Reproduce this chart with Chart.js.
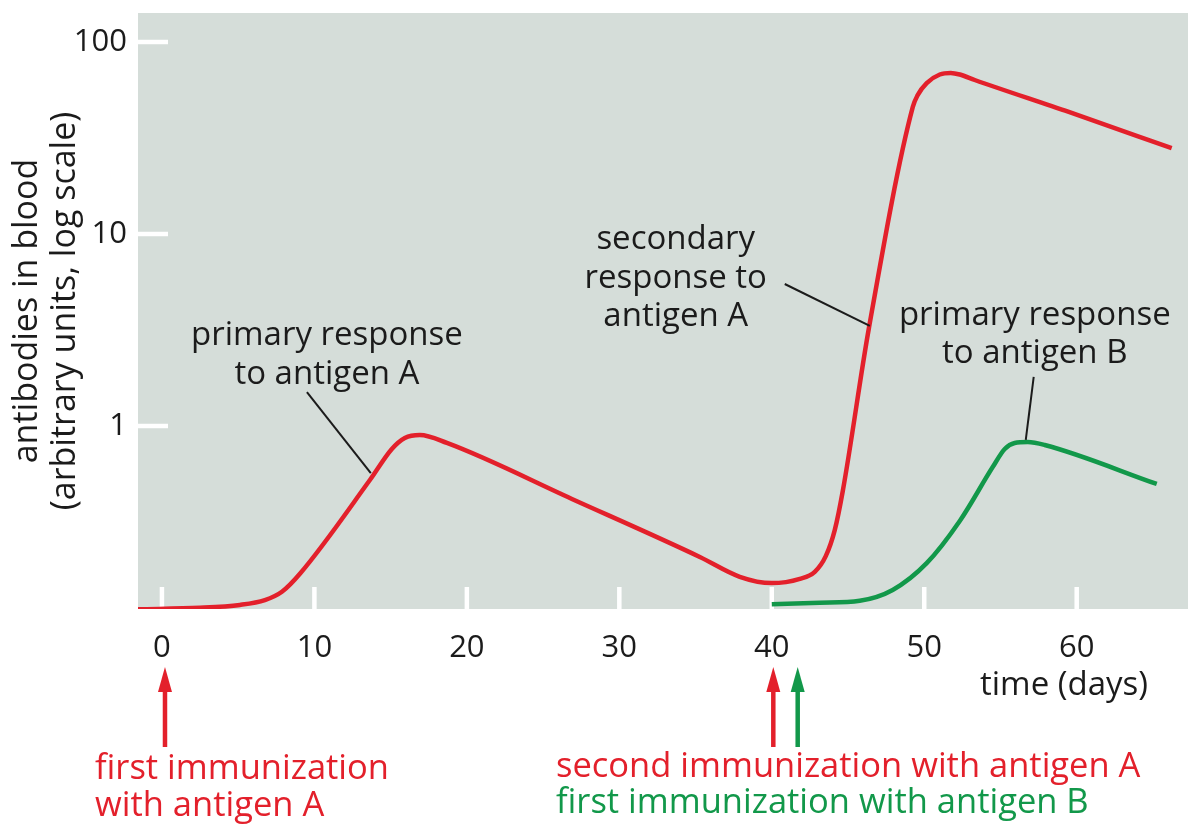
<!DOCTYPE html>
<html lang="en">
<head>
<meta charset="UTF-8">
<title>Primary and secondary antibody response</title>
<script src="https://cdn.jsdelivr.net/npm/chart.js@4.4.0/dist/chart.umd.min.js"></script>
<style>
  * { margin:0; padding:0; box-sizing:border-box; }
  html, body { width:1197px; height:835px; background:#fff; overflow:hidden; }
  .wrap { position:relative; width:1197px; height:835px; }
</style>
</head>
<body>
<div class="wrap"><canvas id="chart" width="1197" height="835"></canvas></div>

<script>
// ---- data (days after first immunization, antibodies in arbitrary units) ----
const dayTicks = [0, 10, 20, 30, 40, 50, 60];
const levelTicks = [1, 10, 100];

const antigenADays   = [-1.57, 2.49, 5.11, 6.75, 7.87, 9.05, 13.64, 15.08, 15.93, 16.92, 18.69, 26.89,
                        35.28, 37.90, 40.0, 41.84, 42.82, 43.54, 44.13, 44.66, 46.36, 49.25, 49.57,
                        50.16, 51.02, 51.74, 52.33, 53.31, 59.48, 66.23];
const antigenALevels = [0.111, 0.113, 0.117, 0.124, 0.137, 0.170, 0.523, 0.759, 0.866, 0.898, 0.816, 0.417,
                        0.208, 0.164, 0.152, 0.160, 0.174, 0.210, 0.287, 0.460, 3.2, 45.9, 52.9,
                        61.1, 67.7, 69.0, 67.7, 63.4, 43.2, 28.0];

const antigenBDays   = [40.0, 43.15, 45.77, 47.93, 50.16, 52.33, 54.49, 55.28, 55.93, 56.79, 57.90, 65.25];
const antigenBLevels = [0.118, 0.120, 0.123, 0.140, 0.193, 0.320, 0.611, 0.759, 0.816, 0.825, 0.796, 0.499];

const immunizationDays = [0.2, 40.1, 41.7];

const RED = '#e3202b';
const GREEN = '#12984a';
const INK = '#1b1b1b';
const FONT = "'Open Sans', 'Noto Sans', sans-serif";

const toPoints = (xs, ys) => xs.map((x, i) => ({ x, y: ys[i] }));

// panel background + white inner tick marks
const panel = {
  id: 'panel',
  beforeDraw(chart) {
    const { ctx, chartArea: a } = chart;
    ctx.save();
    ctx.fillStyle = '#d5ddd9';
    ctx.fillRect(a.left, a.top, a.right - a.left, a.bottom - a.top);
    ctx.restore();
  },
  beforeDatasetsDraw(chart) {
    const { ctx, chartArea: a, scales: { x, y } } = chart;
    ctx.save();
    ctx.strokeStyle = '#fff';
    ctx.lineWidth = 4.5;
    dayTicks.forEach(d => {
      const px = x.getPixelForValue(d);
      ctx.beginPath(); ctx.moveTo(px, a.bottom); ctx.lineTo(px, a.bottom - 22); ctx.stroke();
    });
    levelTicks.forEach(v => {
      const py = y.getPixelForValue(v);
      ctx.beginPath(); ctx.moveTo(a.left, py); ctx.lineTo(a.left + 30, py); ctx.stroke();
    });
    ctx.restore();
  }
};

// labels, leader lines and immunization arrows
const notes = {
  id: 'notes',
  afterDraw(chart) {
    const { ctx, scales: { x, y } } = chart;
    const P = (d, v) => [x.getPixelForValue(d), y.getPixelForValue(v)];
    ctx.save();

    // leader lines
    ctx.strokeStyle = INK;
    ctx.lineWidth = 2;
    [[9.51, 1.50, 13.70, 0.569], [40.85, 5.49, 46.43, 3.32], [57.18, 1.80, 56.66, 0.846]].forEach(l => {
      const [x1, y1] = P(l[0], l[1]), [x2, y2] = P(l[2], l[3]);
      ctx.beginPath(); ctx.moveTo(x1, y1); ctx.lineTo(x2, y2); ctx.stroke();
    });

    // response labels
    ctx.fillStyle = INK;
    ctx.font = `33px ${FONT}`;
    ctx.textAlign = 'center';
    ctx.textBaseline = 'alphabetic';
    [
      { d: 10.82, v: 2.64, lines: ['primary response', 'to antigen A'] },
      { d: 33.70, v: 8.35, lines: ['secondary', 'response to', 'antigen A'] },
      { d: 57.25, v: 3.36, lines: ['primary response', 'to antigen B'] }
    ].forEach(t => {
      const [px, py] = P(t.d, t.v);
      t.lines.forEach((s, i) => ctx.fillText(s, px, py + i * 38.5));
    });

    // x axis title
    ctx.textAlign = 'right';
    ctx.fillText('time (days)', 1148, 695);

    // arrows
    const cols = [RED, RED, GREEN];
    immunizationDays.forEach((d, i) => {
      const px = x.getPixelForValue(d);
      ctx.strokeStyle = cols[i];
      ctx.fillStyle = cols[i];
      ctx.lineWidth = 4.5;
      ctx.beginPath(); ctx.moveTo(px, 747); ctx.lineTo(px, 685); ctx.stroke();
      ctx.beginPath(); ctx.moveTo(px, 667); ctx.lineTo(px - 7, 692); ctx.lineTo(px + 7, 692); ctx.closePath(); ctx.fill();
    });

    // immunization captions
    ctx.font = `34.5px ${FONT}`;
    ctx.textAlign = 'left';
    ctx.fillStyle = RED;
    ctx.fillText('first immunization', 95, 779);
    ctx.fillText('with antigen A', 95, 816);
    ctx.fillText('second immunization with antigen A', 556, 777);
    ctx.fillStyle = GREEN;
    ctx.fillText('first immunization with antigen B', 556, 813);

    ctx.restore();
  }
};

// no extra room for half labels at the ends of the axes
const noEdgePadding = s => { s.paddingTop = 0; s.paddingBottom = 0; s.paddingLeft = 0; s.paddingRight = 0; };

new Chart(document.getElementById('chart').getContext('2d'), {
  type: 'line',
  data: {
    datasets: [
      { label: 'antigen A', data: toPoints(antigenADays, antigenALevels), borderColor: RED,
        borderWidth: 4.5, pointRadius: 0, cubicInterpolationMode: 'monotone', fill: false },
      { label: 'antigen B', data: toPoints(antigenBDays, antigenBLevels), borderColor: GREEN,
        borderWidth: 4.5, pointRadius: 0, cubicInterpolationMode: 'monotone', fill: false }
    ]
  },
  options: {
    responsive: false,
    animation: false,
    layout: { padding: { left: 0, top: 13, right: 9, bottom: 0 } },
    plugins: { legend: { display: false }, tooltip: { enabled: false } },
    scales: {
      x: {
        type: 'linear', min: -1.57, max: 67.3,
        afterBuildTicks: s => { s.ticks = dayTicks.map(v => ({ value: v })); },
        afterFit: s => { s.height = 226; noEdgePadding(s); },
        grid: { display: false, drawTicks: false },
        border: { display: false },
        ticks: { color: INK, font: { family: FONT, size: 31 }, padding: 21, maxRotation: 0, autoSkip: false }
      },
      y: {
        type: 'logarithmic', min: 0.1114, max: 141.6,
        afterBuildTicks: s => { s.ticks = levelTicks.map(v => ({ value: v })); },
        afterFit: s => { s.width = 138; noEdgePadding(s); },
        grid: { display: false, drawTicks: false },
        border: { display: false },
        ticks: { color: INK, font: { family: FONT, size: 31 }, padding: 11, callback: v => String(v) },
        title: {
          display: true,
          text: ['antibodies in blood', '(arbitrary units, log scale)'],
          color: INK,
          font: { family: FONT, size: 34, lineHeight: 1.12 },
          padding: { top: 8, bottom: 0 }
        }
      }
    }
  },
  plugins: [panel, notes]
});
</script>
</body>
</html>
